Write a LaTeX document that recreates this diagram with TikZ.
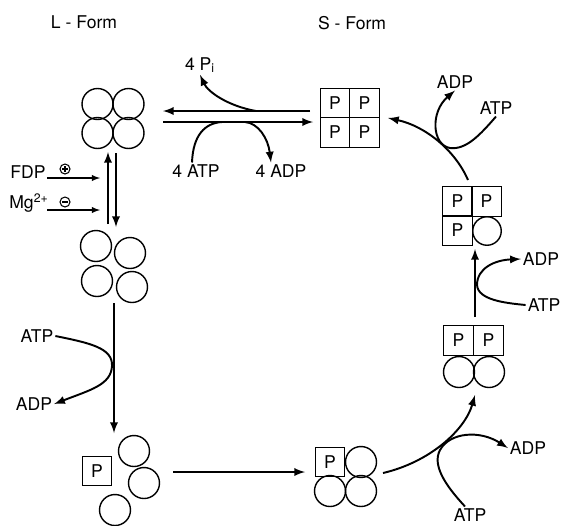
\documentclass[tikz,border=0pt]{standalone}
\usepackage{fontspec}
\setmainfont{TeX Gyre Heros}
\usetikzlibrary{arrows}
\tikzstyle{sub}=[circle,draw,line width=0.8pt,minimum size=0.62cm,inner sep=0pt]
\tikzstyle{psub}=[rectangle,draw,line width=0.8pt,minimum size=0.59cm,inner sep=0pt,font=\fontsize{10}{11}\selectfont]
\tikzstyle{lbl}=[inner sep=1pt,font=\fontsize{10}{11}\selectfont]
\tikzstyle{sgn}=[circle,draw,line width=0.6pt,minimum size=0.2cm,inner sep=0pt]
\tikzstyle{arr}=[-latex,line width=1.1pt]
\tikzstyle{fine}=[-latex,line width=0.6pt]

\begin{document}
\begin{tikzpicture}[x=0.02cm,y=-0.02cm]
\useasboundingbox (0,0) rectangle (563,525);
\node[lbl] (LF) at (84,22) {L - Form};
\node[lbl] (SF) at (352,23) {S - Form};

\node[sub] (A1) at (97.5,104) {};
\node[sub] (A2) at (128.5,104) {};
\node[sub] (A3) at (97.5,133) {};
\node[sub] (A4) at (128.5,133) {};

\node[psub] (S1) at (335,103) {P};
\node[psub] (S2) at (364.5,103) {P};
\node[psub] (S3) at (335,132.5) {P};
\node[psub] (S4) at (364.5,132.5) {P};

\node[sub] (B1) at (96,246) {};
\node[sub] (B2) at (130,253) {};
\node[sub] (B3) at (97,281) {};
\node[sub] (B4) at (132,287) {};

\node[psub] (C1) at (97,471) {P};
\node[sub] (C2) at (134,451) {};
\node[sub] (C3) at (144,483) {};
\node[sub] (C4) at (115,510) {};

\node[psub] (D1) at (330,462) {P};
\node[sub] (D2) at (361,462) {};
\node[sub] (D3) at (330,491) {};
\node[sub] (D4) at (361,491) {};

\node[psub] (E1) at (458.5,340.5) {P};
\node[psub] (E2) at (488.5,340.5) {P};
\node[sub] (E3) at (459,372) {};
\node[sub] (E4) at (489,372) {};

\node[psub] (F1) at (457.5,201.5) {P};
\node[psub] (F2) at (486.5,201.5) {P};
\node[psub] (F3) at (457.5,230.5) {P};
\node[sub,minimum size=0.57cm] (F4) at (487,231) {};

\node[lbl] (Pi) at (200,65) {4 P\textsubscript{i}};
\node[lbl] (T0) at (196,171) {4 ATP};
\node[lbl] (D0) at (281,171) {4 ADP};
\node[lbl] (T1) at (496,108) {ATP};
\node[lbl] (D1x) at (455,82) {ADP};
\node[lbl] (T2) at (544,305) {ATP};
\node[lbl] (D2x) at (541,259) {ADP};
\node[lbl] (T3) at (470,515) {ATP};
\node[lbl] (D3x) at (528,448) {ADP};
\node[lbl] (T4) at (37,336) {ATP};
\node[lbl] (D4x) at (34,404) {ADP};
\node[lbl] (FDP) at (28,172) {FDP};
\node[lbl] (Mg) at (29,203) {Mg\textsuperscript{2+}};
\node[sgn] (plus) at (65,169) {};
\node[sgn] (minus) at (65,202) {};
\draw[line width=0.6pt] ([xshift=-0.06cm]plus.center) -- ([xshift=0.06cm]plus.center)
  ([yshift=-0.06cm]plus.center) -- ([yshift=0.06cm]plus.center);
\draw[line width=0.6pt] ([xshift=-0.06cm]minus.center) -- ([xshift=0.06cm]minus.center);

\coordinate (h1) at (310,111);
\coordinate (h2) at (163,111);
\coordinate (h3) at (163,122);
\coordinate (h4) at (313,122);
\coordinate (hp) at (256,111);
\draw[arr] (h1) -- (h2);
\draw[arr] (h3) -- (h4);
\draw[arr] (hp) .. controls (228,106) and (208,92) .. (Pi.south);
\draw[arr] ([xshift=-0.08cm]T0.north) .. controls (193,135) and (205,123) .. (222,122) -- (245,122) .. controls (258,123) and (268,138) .. ([xshift=-0.2cm]D0.north);

\coordinate (v1) at (108,224);
\coordinate (v2) at (108,152);
\coordinate (v3) at (116,153);
\coordinate (v4) at (116,227);
\draw[arr] (v1) -- (v2);
\draw[arr] (v3) -- (v4);
\coordinate (f1) at (100,178);
\coordinate (m1) at (100,210);
\draw[fine] (47,178) -- (f1);
\draw[fine] (47,210) -- (m1);

\coordinate (l1) at (114,303);
\coordinate (l2) at (114,433);
\draw[arr] (l1) -- (l2);
\draw[arr] (T4.east) .. controls (90,343) and (113,348) .. (112,366) .. controls (111,385) and (90,390) .. (D4x.east);

\coordinate (g1) at (173,472);
\coordinate (g2) at (305,472);
\draw[arr] (g1) -- (g2);

\coordinate (b1) at (383,473);
\coordinate (b2) at (475,395);
\draw[arr] (b1) .. controls (430,462) and (465,430) .. (b2);
\draw[arr] ([xshift=-0.1cm]T3.north) .. controls (445,485) and (432,465) .. (440,450) .. controls (450,432) and (480,430) .. (D3x.west);

\coordinate (u1) at (475,317);
\coordinate (u2) at (475,249);
\draw[arr] (u1) -- (u2);
\draw[arr] (T2.west) .. controls (505,303) and (478,300) .. (477,285) .. controls (477,268) and (495,260) .. (D2x.west);

\coordinate (r1) at (468,180);
\coordinate (r2) at (388,118);
\draw[arr] (r1) .. controls (455,150) and (425,126) .. (r2);
\draw[arr] (T1.south) .. controls (480,135) and (466,150) .. (450,148) .. controls (432,145) and (430,112) .. (D1x.south);
\end{tikzpicture}
\end{document}
